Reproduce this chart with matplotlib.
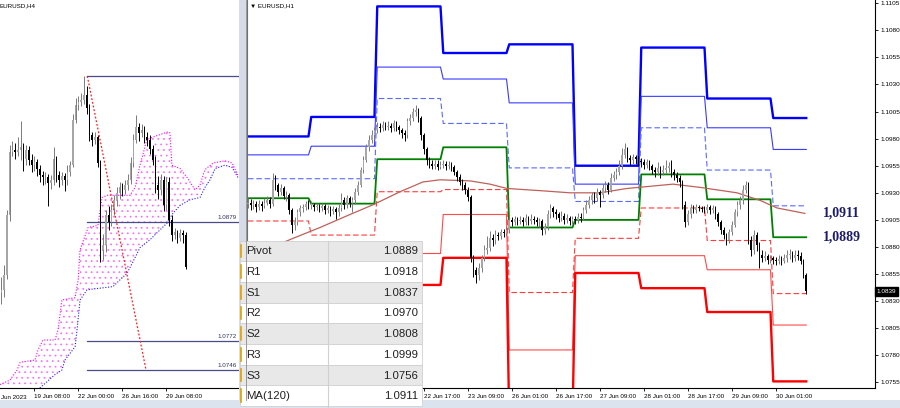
import numpy as np
import matplotlib
matplotlib.use("Agg")
import matplotlib.pyplot as plt
from matplotlib.patches import Rectangle, Polygon
import matplotlib.transforms as mtransforms

# ---------------- data: H1 panel ----------------
h1_first_open = 1.0920
h1_close = [
    1.0921, 1.0919, 1.0920, 1.0917, 1.0920, 1.0918, 1.0921, 1.0923, 1.0920, 1.0942, 1.0937, 1.0931, 1.0934, 1.0927, 1.0928, 1.0914, 1.0900, 1.0903, 1.0912, 1.0916, 1.0917, 1.0920, 1.0919,
    1.0919, 1.0917, 1.0918, 1.0916, 1.0918, 1.0914, 1.0916, 1.0913, 1.0915, 1.0912, 1.0916, 1.0923, 1.0919, 1.0925, 1.0921, 1.0923, 1.0931, 1.0937, 1.0951, 1.0960, 1.0972, 1.0979, 1.0983, 1.0988,
    1.0991, 1.0990, 1.0993, 1.0991, 1.0992, 1.0990, 1.0994, 1.0991, 1.0988, 1.0985, 1.0983, 1.0996, 1.0999, 1.1005, 1.1006, 1.0999, 1.0983, 1.0970, 1.0960, 1.0957, 1.0955, 1.0957, 1.0954, 1.0956,
    1.0957, 1.0955, 1.0956, 1.0954, 1.0949, 1.0945, 1.0940, 1.0937, 1.0933, 1.0926, 1.0870, 1.0859, 1.0854, 1.0861, 1.0870, 1.0877, 1.0879, 1.0888, 1.0886, 1.0891, 1.0890, 1.0894, 1.0893, 1.0896,
    1.0905, 1.0903, 1.0906, 1.0904, 1.0905, 1.0903, 1.0907, 1.0904, 1.0906, 1.0905, 1.0903, 1.0904, 1.0896, 1.0898, 1.0910, 1.0916, 1.0912, 1.0910, 1.0907, 1.0909, 1.0905, 1.0907, 1.0904, 1.0906,
    1.0905, 1.0908, 1.0907, 1.0914, 1.0919, 1.0923, 1.0928, 1.0925, 1.0931, 1.0928, 1.0934, 1.0937, 1.0933, 1.0944, 1.0946, 1.0949, 1.0955, 1.0965, 1.0970, 1.0962, 1.0960, 1.0963, 1.0961, 1.0959,
    1.0958, 1.0956, 1.0958, 1.0955, 1.0951, 1.0949, 1.0953, 1.0949, 1.0951, 1.0953, 1.0955, 1.0949, 1.0946, 1.0944, 1.0940, 1.0919, 1.0903, 1.0910, 1.0916, 1.0914, 1.0917, 1.0916, 1.0915, 1.0914,
    1.0917, 1.0914, 1.0916, 1.0910, 1.0903, 1.0896, 1.0891, 1.0886, 1.0894, 1.0900, 1.0912, 1.0919, 1.0923, 1.0933, 1.0937, 1.0886, 1.0877, 1.0891, 1.0882, 1.0873, 1.0870, 1.0872, 1.0868, 1.0870,
    1.0868, 1.0867, 1.0869, 1.0867, 1.0870, 1.0873, 1.0874, 1.0870, 1.0873, 1.0872, 1.0867, 1.0854, 1.0839,
]
h1_high = [
    1.0925, 1.0924, 1.0923, 1.0922, 1.0923, 1.0922, 1.0925, 1.0927, 1.0926, 1.0948, 1.0946, 1.0939, 1.0938, 1.0936, 1.0932, 1.0930, 1.0916, 1.0908, 1.0915, 1.0919, 1.0920, 1.0922, 1.0923,
    1.0922, 1.0921, 1.0921, 1.0920, 1.0921, 1.0920, 1.0919, 1.0918, 1.0918, 1.0917, 1.0920, 1.0930, 1.0926, 1.0928, 1.0927, 1.0926, 1.0934, 1.0941, 1.0954, 1.0964, 1.0975, 1.0983, 1.0988, 1.0991,
    1.0995, 1.0994, 1.0996, 1.0995, 1.0996, 1.0994, 1.0997, 1.0996, 1.0993, 1.0990, 1.0988, 1.0999, 1.1003, 1.1008, 1.1011, 1.1008, 1.1001, 1.0985, 1.0972, 1.0963, 1.0960, 1.0960, 1.0960, 1.0959,
    1.0960, 1.0959, 1.0959, 1.0958, 1.0956, 1.0951, 1.0947, 1.0943, 1.0940, 1.0935, 1.0928, 1.0873, 1.0862, 1.0865, 1.0873, 1.0882, 1.0890, 1.0895, 1.0892, 1.0896, 1.0894, 1.0897, 1.0897, 1.0899,
    1.0909, 1.0908, 1.0909, 1.0908, 1.0909, 1.0908, 1.0910, 1.0909, 1.0910, 1.0909, 1.0908, 1.0907, 1.0906, 1.0902, 1.0914, 1.0920, 1.0918, 1.0915, 1.0912, 1.0913, 1.0911, 1.0910, 1.0909, 1.0909,
    1.0909, 1.0911, 1.0911, 1.0917, 1.0923, 1.0927, 1.0931, 1.0931, 1.0934, 1.0933, 1.0938, 1.0941, 1.0940, 1.0948, 1.0950, 1.0953, 1.0960, 1.0971, 1.0976, 1.0972, 1.0965, 1.0966, 1.0965, 1.0964,
    1.0962, 1.0961, 1.0961, 1.0960, 1.0957, 1.0954, 1.0958, 1.0955, 1.0956, 1.0960, 1.0958, 1.0960, 1.0952, 1.0949, 1.0946, 1.0942, 1.0922, 1.0914, 1.0920, 1.0919, 1.0920, 1.0919, 1.0918, 1.0918,
    1.0920, 1.0919, 1.0919, 1.0918, 1.0912, 1.0905, 1.0898, 1.0893, 1.0897, 1.0904, 1.0915, 1.0922, 1.0927, 1.0937, 1.0941, 1.0940, 1.0890, 1.0896, 1.0894, 1.0885, 1.0877, 1.0876, 1.0874, 1.0873,
    1.0872, 1.0871, 1.0873, 1.0872, 1.0874, 1.0877, 1.0878, 1.0876, 1.0877, 1.0877, 1.0875, 1.0869, 1.0856,
]
h1_low = [
    1.0916, 1.0914, 1.0915, 1.0912, 1.0914, 1.0913, 1.0916, 1.0919, 1.0916, 1.0918, 1.0933, 1.0927, 1.0928, 1.0924, 1.0922, 1.0910, 1.0893, 1.0896, 1.0900, 1.0909, 1.0912, 1.0914, 1.0915,
    1.0915, 1.0913, 1.0914, 1.0912, 1.0913, 1.0910, 1.0911, 1.0909, 1.0910, 1.0906, 1.0909, 1.0913, 1.0915, 1.0916, 1.0917, 1.0912, 1.0920, 1.0928, 1.0935, 1.0948, 1.0958, 1.0969, 1.0976, 1.0980,
    1.0985, 1.0986, 1.0987, 1.0988, 1.0988, 1.0986, 1.0987, 1.0987, 1.0984, 1.0981, 1.0978, 1.0981, 1.0993, 1.0996, 1.1001, 1.0995, 1.0979, 1.0966, 1.0956, 1.0953, 1.0952, 1.0952, 1.0951, 1.0952,
    1.0953, 1.0951, 1.0952, 1.0950, 1.0946, 1.0941, 1.0937, 1.0933, 1.0929, 1.0922, 1.0866, 1.0852, 1.0847, 1.0850, 1.0857, 1.0867, 1.0874, 1.0876, 1.0881, 1.0883, 1.0886, 1.0887, 1.0889, 1.0890,
    1.0893, 1.0899, 1.0900, 1.0900, 1.0901, 1.0899, 1.0900, 1.0900, 1.0901, 1.0901, 1.0899, 1.0898, 1.0891, 1.0892, 1.0896, 1.0907, 1.0908, 1.0906, 1.0903, 1.0904, 1.0901, 1.0902, 1.0900, 1.0901,
    1.0901, 1.0902, 1.0903, 1.0905, 1.0911, 1.0916, 1.0920, 1.0921, 1.0922, 1.0917, 1.0925, 1.0931, 1.0929, 1.0931, 1.0941, 1.0943, 1.0946, 1.0952, 1.0962, 1.0958, 1.0956, 1.0957, 1.0957, 1.0955,
    1.0954, 1.0952, 1.0953, 1.0951, 1.0947, 1.0945, 1.0946, 1.0944, 1.0946, 1.0948, 1.0949, 1.0945, 1.0942, 1.0940, 1.0935, 1.0915, 1.0898, 1.0900, 1.0907, 1.0911, 1.0911, 1.0913, 1.0912, 1.0911,
    1.0911, 1.0910, 1.0911, 1.0906, 1.0899, 1.0892, 1.0887, 1.0882, 1.0884, 1.0891, 1.0898, 1.0909, 1.0915, 1.0920, 1.0930, 1.0883, 1.0872, 1.0874, 1.0876, 1.0861, 1.0866, 1.0867, 1.0864, 1.0865,
    1.0864, 1.0863, 1.0864, 1.0863, 1.0865, 1.0866, 1.0869, 1.0866, 1.0867, 1.0868, 1.0864, 1.0851, 1.0837,
]
# first bar of each trading day (20, 21, 22, 23, 26, 27, 28, 29, 30 Jun)
day_start_bar = [0, 23, 47, 71, 95, 119, 143, 167, 191]
pivot_R3 = [1.0982, 1.1000, 1.1102, 1.1059, 1.1067, 1.0955, 1.1064, 1.1017, 1.0999]
pivot_R2 = [1.0965, 1.0973, 1.1046, 1.1035, 1.1013, 1.0938, 1.1019, 1.0990, 1.0970]
pivot_R1 = [1.0943, 1.0943, 1.1017, 1.0994, 1.0953, 1.0922, 1.0990, 1.0951, 1.0918]
pivot_PP = [1.0925, 1.0920, 1.0961, 1.0972, 1.0898, 1.0905, 1.0947, 1.0924, 1.0889]
pivot_S1 = [1.0904, 1.0891, 1.0931, 1.0933, 1.0838, 1.0888, 1.0916, 1.0886, 1.0837]
pivot_S2 = [1.0870, 1.0862, 1.0874, 1.0910, 1.0785, 1.0872, 1.0872, 1.0859, 1.0808]
pivot_S3 = [1.0845, 1.0832, 1.0845, 1.0870, 1.0720, 1.0856, 1.0842, 1.0820, 1.0756]
ma_bars = [9.8, 16.4, 26.2, 37.1, 45.5, 55.3, 63.6, 69.8, 80.7, 88.0, 94.2, 106.2, 117.1,
           128.0, 137.8, 146.2, 154.5, 164.4, 177.8, 186.2, 192.4, 202.5]
ma_values = [1.0881, 1.0888, 1.0898, 1.0910, 1.0919, 1.0931, 1.0940, 1.0942, 1.0941, 1.0938, 1.0934,
             1.0932, 1.0930, 1.0930, 1.0934, 1.0936, 1.0938, 1.0935, 1.0930, 1.0923, 1.0916, 1.0911]
h1_tick_bars = [64, 80, 96, 112, 128, 144, 160, 176, 192]
h1_tick_labels = ["22 Jun 17:00", "23 Jun 09:00", "26 Jun 01:00", "26 Jun 17:00", "27 Jun 09:00",
                  "28 Jun 01:00", "28 Jun 17:00", "29 Jun 09:00", "30 Jun 01:00"]
price_ticks = [1.0755, 1.0780, 1.0805, 1.0830, 1.0855, 1.0880, 1.0905, 1.0930, 1.0955,
               1.0980, 1.1005, 1.1030, 1.1055, 1.1080, 1.1105]
table_labels = ["Pivot", "R1", "S1", "R2", "S2", "R3", "S3", "MA(120)"]
table_values = [1.0889, 1.0918, 1.0837, 1.0970, 1.0808, 1.0999, 1.0756, 1.0911]

# ---------------- data: H4 panel ----------------
h4_first_open = 1.0815
h4_close = [1.0818, 1.0831, 1.0885, 1.0942, 1.0944, 1.0942, 1.0944, 1.0946, 1.0936, 1.0944,
            1.0935, 1.0930, 1.0933, 1.0927, 1.0921, 1.0919, 1.0919, 1.0914, 1.0917, 1.0936,
            1.0921, 1.0917, 1.0920, 1.0917, 1.0924, 1.0930, 1.0971, 1.0984, 1.0987, 1.0989,
            1.0993, 1.0981, 1.0957, 1.0953, 1.0955, 1.0932, 1.0854, 1.0858, 1.0885, 1.0879,
            1.0890, 1.0899, 1.0905, 1.0910, 1.0908, 1.0912, 1.0917, 1.0932, 1.0953, 1.0964,
            1.0959, 1.0962, 1.0955, 1.0953, 1.0945, 1.0935, 1.0912, 1.0908, 1.0917, 1.0894,
            1.0915, 1.0881, 1.0867, 1.0870, 1.0865, 1.0869, 1.0867, 1.0839]
h4_high = [1.0830, 1.0840, 1.0890, 1.0948, 1.0952, 1.0950, 1.0955, 1.0970, 1.0950, 1.0948,
           1.0947, 1.0940, 1.0938, 1.0936, 1.0930, 1.0925, 1.0924, 1.0922, 1.0921, 1.0946,
           1.0938, 1.0925, 1.0924, 1.0923, 1.0930, 1.0934, 1.0976, 1.0990, 1.0992, 1.0995,
           1.1010, 1.1001, 1.0985, 1.0960, 1.0960, 1.0957, 1.0935, 1.0868, 1.0890, 1.0893,
           1.0895, 1.0903, 1.0910, 1.0915, 1.0914, 1.0917, 1.0922, 1.0937, 1.0958, 1.0975,
           1.0968, 1.0967, 1.0965, 1.0960, 1.0957, 1.0948, 1.0938, 1.0920, 1.0922, 1.0920,
           1.0919, 1.0919, 1.0885, 1.0874, 1.0872, 1.0873, 1.0872, 1.0870]
h4_low = [1.0805, 1.0812, 1.0828, 1.0880, 1.0938, 1.0936, 1.0938, 1.0935, 1.0925, 1.0930,
          1.0930, 1.0924, 1.0925, 1.0920, 1.0915, 1.0912, 1.0913, 1.0893, 1.0909, 1.0912,
          1.0915, 1.0910, 1.0912, 1.0907, 1.0912, 1.0920, 1.0928, 1.0968, 1.0980, 1.0983,
          1.0985, 1.0976, 1.0952, 1.0947, 1.0949, 1.0928, 1.0843, 1.0845, 1.0852, 1.0872,
          1.0875, 1.0885, 1.0893, 1.0900, 1.0902, 1.0904, 1.0908, 1.0913, 1.0928, 1.0950,
          1.0952, 1.0955, 1.0950, 1.0947, 1.0940, 1.0930, 1.0905, 1.0900, 1.0903, 1.0889,
          1.0890, 1.0875, 1.0862, 1.0864, 1.0860, 1.0862, 1.0860, 1.0837]
cloud_upper_bars = [-0.5, 3.1, 5.7, 6.8, 12.2, 13.3, 15.1, 19.5, 20.6, 22.0, 26.8, 27.9, 28.6, 31.5,
                    35.1, 36.6, 38.4, 46.8, 48.6, 50.4, 52.9, 55.9, 60.6, 61.3, 62.0, 65.0, 67.5,
                    70.4, 72.2, 74.0, 77.0, 81.3, 83.9, 86.0]
cloud_upper = [1.0733, 1.0737, 1.0746, 1.0753, 1.0755, 1.0764, 1.0773, 1.0773, 1.0782, 1.0809,
               1.0811, 1.0827, 1.0854, 1.0874, 1.0876, 1.0901, 1.0903, 1.0903, 1.0910, 1.0930,
               1.0953, 1.0956, 1.0960, 1.0959, 1.0930, 1.0927, 1.0919, 1.0908, 1.0912, 1.0926,
               1.0932, 1.0934, 1.0932, 1.0921]
cloud_lower_bars = [-0.5, 12.0, 14.0, 15.9, 19.5, 22.0, 23.1, 26.8, 27.5, 28.6, 31.1, 34.0, 40.6,
                    43.1, 45.7, 48.6, 50.4, 54.0, 57.7, 60.2, 62.4, 65.0, 68.6, 72.2, 74.0, 75.9,
                    77.7, 81.3, 83.9, 86.0]
cloud_lower = [1.0715, 1.0720, 1.0730, 1.0734, 1.0742, 1.0746, 1.0755, 1.0767, 1.0782, 1.0809,
               1.0818, 1.0819, 1.0821, 1.0827, 1.0833, 1.0847, 1.0856, 1.0863, 1.0872, 1.0878,
               1.0887, 1.0894, 1.0899, 1.0901, 1.0910, 1.0917, 1.0927, 1.0930, 1.0928, 1.0919]
fib_start_bar = 31.25
fib_levels = [1.1010, 1.0879, 1.0772, 1.0746]
fib_labels = ["", "1.0879", "1.0772", "1.0746"]
trend_bars = [31.25, 52.6]
trend_prices = [1.1010, 1.0746]
h4_tick_bars = [12, 28, 44, 60]
h4_tick_labels = ["19 Jun 08:00", "22 Jun 00:00", "26 Jun 16:00", "29 Jun 08:00"]

# ---------------- figure ----------------
W, H = 900, 408
fig = plt.figure(figsize=(9, 4.08), dpi=100)
fig.patch.set_facecolor("white")
FS = "Liberation Sans"


def fax(x0, y0, x1, y1):
    return fig.add_axes([x0 / W, 1 - y1 / H, (x1 - x0) / W, (y1 - y0) / H])


def candles(ax, first_open, close, high, low, width):
    c = np.asarray(close)
    o = np.concatenate([[first_open], c[:-1]])
    h = np.asarray(high)
    lo = np.asarray(low)
    idx = np.arange(len(c))
    up = c >= o
    wick_col = np.where(up, "#7a7a7a", "#000000")
    body_col = np.where(up, "#a6a6a6", "#000000")
    ax.vlines(idx, lo, h, colors=list(wick_col), lw=0.7, zorder=3)
    hgt = np.maximum(np.abs(c - o), 0.00008)
    ax.bar(idx, hgt, bottom=np.minimum(o, c), width=width, color=list(body_col),
           linewidth=0, zorder=4)


# ---- left H4 panel ----
axL = fax(0, 0, 239, 388)
axL.set_xlim(-0.51, 86.4)
axL.set_ylim(1.07299, 1.10784)
for s in ["top", "left", "right"]:
    axL.spines[s].set_visible(False)
axL.spines["bottom"].set_linewidth(0.8)
axL.set_yticks([])

poly = np.vstack([np.column_stack([cloud_upper_bars, cloud_upper]),
                  np.column_stack([cloud_lower_bars, cloud_lower])[::-1]])
plt.rcParams["hatch.linewidth"] = 0.5
axL.add_patch(Polygon(poly, closed=True, fill=False, hatch="...", edgecolor="#ff66ff",
                      linewidth=0, zorder=1))
axL.plot(cloud_upper_bars, cloud_upper, color="#ff00ff", lw=0.8, ls=(0, (1, 1.5)), zorder=2)
axL.plot(cloud_lower_bars, cloud_lower, color="#2020ff", lw=0.8, ls=(0, (1, 1.5)), zorder=2)

for lev, lab in zip(fib_levels, fib_labels):
    axL.plot([fib_start_bar, 90], [lev, lev], color="#4b4b8c", lw=0.9, zorder=2, clip_on=True)
    if lab:
        axL.text(85.7, lev + 0.0002, lab, fontsize=4.5, family=FS, color="#303060",
                 ha="right", va="bottom", zorder=6)
axL.plot(trend_bars, trend_prices, color="#ff2020", lw=0.9, ls=(0, (1.5, 1.5)), zorder=5)

candles(axL, h4_first_open, h4_close, h4_high, h4_low, 0.6)

axL.set_xticks(h4_tick_bars)
axL.set_xticklabels(h4_tick_labels, fontsize=4.5, family=FS)
for t in axL.get_xticklabels():
    t.set_ha("left")
axL.tick_params(axis="x", length=2.5, width=0.6, pad=1.5)
axL.text(0.003, -0.018, "Jun 2023", transform=axL.transAxes,
         fontsize=4.5, family=FS, ha="left", va="top", clip_on=False)

# ---- right H1 panel ----
axR = fax(247, 0, 875, 388)
axR.set_xlim(-0.36, 228.0)
axR.set_ylim(1.07499, 1.11079)
axR.spines["top"].set_visible(False)
for s in ["left", "right", "bottom"]:
    axR.spines[s].set_linewidth(0.8)
axR.spines["left"].set_color("#707070")

counts = np.diff(day_start_bar + [len(h1_close)])
bars = np.arange(len(h1_close))
styles = [
    (pivot_R3, "#0000ff", 1.7, "-"),
    (pivot_R2, "#3a3aff", 0.8, "-"),
    (pivot_R1, "#5a6aff", 0.8, (0, (5, 2.5))),
    (pivot_PP, "#008000", 1.3, "-"),
    (pivot_S1, "#ff3a3a", 0.8, (0, (5, 2.5))),
    (pivot_S2, "#ff4a4a", 0.8, "-"),
    (pivot_S3, "#ff0000", 1.7, "-"),
]
for lev, col, lw, ls in styles:
    axR.plot(bars, np.repeat(lev, counts), color=col, lw=lw, ls=ls, zorder=2)
axR.plot(ma_bars, ma_values, color="#c0605a", lw=0.9, zorder=2)

candles(axR, h1_first_open, h1_close, h1_high, h1_low, 0.6)

axR.set_xticks(h1_tick_bars)
axR.set_xticklabels(h1_tick_labels, fontsize=4.5, family=FS)
for t in axR.get_xticklabels():
    t.set_ha("left")
axR.tick_params(axis="x", length=2.5, width=0.6, pad=1.5)
axR.yaxis.set_ticks_position("right")
axR.set_yticks(price_ticks)
axR.set_yticklabels([f"{p:.4f}" for p in price_ticks], fontsize=4.6, family=FS)
axR.tick_params(axis="y", length=2.5, width=0.6, pad=1.5)
axR.text(1.003, h1_close[-1], f"{h1_close[-1]:.4f}", transform=mtransforms.blended_transform_factory(
    axR.transAxes, axR.transData), fontsize=4.6, family=FS, color="white", va="center",
    ha="left", bbox=dict(boxstyle="square,pad=0.25", fc="black", ec="black"), clip_on=False)

# big annotations
for val in [ma_values[-1], pivot_PP[-1]]:
    axR.text(209, val, f"{val:.4f}".replace(".", ","), fontsize=10, family="Liberation Serif",
             weight="bold", color="#1c1c6e", va="center", ha="left")

axR.text(0.004, 0.992, "\u25bc EURUSD,H1", transform=axR.transAxes, fontsize=4.5, family=FS,
         va="top", ha="left")
axL.text(0.0, 0.992, "EURUSD,H4", transform=axL.transAxes, fontsize=4.5, family=FS,
         va="top", ha="left")

# ---- overlay: separator, bottom strip, table ----
ov = fig.add_axes([0, 0, 1, 1])
ov.set_xlim(0, W)
ov.set_ylim(H, 0)
ov.axis("off")
ov.set_zorder(10)
ov.patch.set_alpha(0)
ov.add_patch(Rectangle((239, 0), 7, 400, fc="#d5dce8", ec="none"))
ov.plot([246.3, 246.3], [0, 400], color="#8a8a8a", lw=0.6)
ov.add_patch(Rectangle((0, 400), W, 8, fc="#dbe3ee", ec="none"))

tx0, tx1, tcol, ty0, rh = 240, 422, 328, 240.5, 20.7
for i, (lab, val) in enumerate(zip(table_labels, table_values)):
    y = ty0 + i * rh
    fc = "#e8e8e8" if i % 2 == 0 else "#ffffff"
    ov.add_patch(Rectangle((tx0, y), tx1 - tx0, rh, fc=fc, ec="#d0d0d0", lw=0.6))
    ov.plot([241.2, 241.2], [y + 4, y + rh - 4], color="#e0a000", lw=1.2)
    ov.text(246.5, y + rh / 2 + 0.5, lab, fontsize=8.2, family=FS, color="#202020",
            va="center", ha="left")
    ov.text(418, y + rh / 2 + 0.5, f"{val:.4f}", fontsize=8.2, family=FS, color="#202020",
            va="center", ha="right")
ov.plot([tcol, tcol], [ty0, H], color="#d0d0d0", lw=0.8)

fig.savefig("out.png", dpi=100)
